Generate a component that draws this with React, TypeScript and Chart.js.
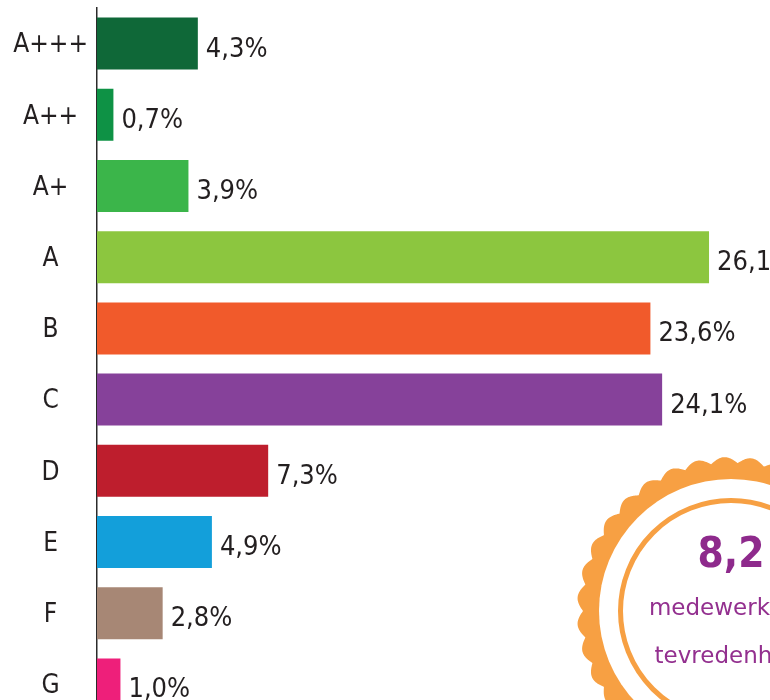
import React, { useEffect, useRef } from 'react';
import { Chart, registerables } from 'chart.js';

Chart.register(...registerables);

const categories = ['A+++', 'A++', 'A+', 'A', 'B', 'C', 'D', 'E', 'F', 'G'];
const shares = [4.3, 0.7, 3.9, 26.1, 23.6, 24.1, 7.3, 4.9, 2.8, 1.0];
const barColors = ['#0F6838', '#0E9245', '#3BB54A', '#8CC63F', '#F15A2B', '#86419A', '#BE1E2D', '#139FDA', '#A78775', '#EE1F7A'];
const badgeScore = '8,2';
const badgeLines = ['medewerkers-', 'tevredenheid'];

const FONT = '"DejaVu Sans Condensed", "DejaVu Sans", sans-serif';
const FONT_WIDE = '"DejaVu Sans", sans-serif';
const TEXT = '#231F20';
const ORANGE = '#F7A043';
const PURPLE = '#8E2A8C';

const fmt = (v: number) => v.toFixed(1).replace('.', ',') + '%';

const valueLabels = {
  id: 'valueLabels',
  afterDatasetsDraw(chart: any) {
    const ctx = chart.ctx;
    const meta = chart.getDatasetMeta(0);
    ctx.save();
    ctx.font = `27px ${FONT}`;
    ctx.fillStyle = TEXT;
    ctx.textAlign = 'left';
    ctx.textBaseline = 'alphabetic';
    meta.data.forEach((bar: any, i: number) => {
      ctx.fillText(fmt(shares[i]), bar.x + 8, bar.y + 13);
    });
    ctx.restore();
  },
};

const badge = {
  id: 'badge',
  afterDraw(chart: any) {
    const ctx = chart.ctx;
    const cx = 731;
    const cy = 611;
    const N = 35;
    const Rv = 148;
    const A = 6;
    ctx.save();
    ctx.beginPath();
    const steps = 2000;
    for (let i = 0; i <= steps; i++) {
      const t = (i / steps) * Math.PI * 2;
      const r = Rv + A * Math.abs(Math.cos((N * t) / 2));
      const x = cx + r * Math.cos(t);
      const y = cy + r * Math.sin(t);
      if (i === 0) ctx.moveTo(x, y);
      else ctx.lineTo(x, y);
    }
    ctx.closePath();
    ctx.fillStyle = ORANGE;
    ctx.fill();
    ctx.beginPath();
    ctx.arc(cx, cy, 132, 0, Math.PI * 2);
    ctx.fillStyle = '#FFFFFF';
    ctx.fill();
    ctx.beginPath();
    ctx.arc(cx, cy, 110.5, 0, Math.PI * 2);
    ctx.strokeStyle = ORANGE;
    ctx.lineWidth = 5;
    ctx.stroke();
    ctx.textAlign = 'center';
    ctx.textBaseline = 'alphabetic';
    ctx.fillStyle = PURPLE;
    ctx.font = `bold 42px ${FONT}`;
    ctx.fillText(badgeScore, cx, 567);
    ctx.font = `23px ${FONT_WIDE}`;
    ctx.fillStyle = '#93308F';
    ctx.fillText(badgeLines[0], cx, 615);
    ctx.fillText(badgeLines[1], cx, 663);
    ctx.restore();
  },
};

export default function App() {
  const ref = useRef<HTMLCanvasElement | null>(null);
  useEffect(() => {
    if (!ref.current) return;
    const chart = new Chart(ref.current, {
      type: 'bar',
      data: {
        labels: categories,
        datasets: [
          {
            data: shares,
            backgroundColor: barColors,
            borderWidth: 0,
            categoryPercentage: 1,
            barPercentage: 0.73,
          },
        ],
      },
      options: {
        indexAxis: 'y',
        responsive: false,
        animation: false,
        events: [],
        layout: { padding: { top: 8, bottom: 10, left: 0, right: 0 } },
        plugins: {
          legend: { display: false },
          tooltip: { enabled: false },
          title: { display: false },
        },
        scales: {
          x: { display: false, min: 0, max: 28.7 },
          y: {
            grid: { display: false, drawTicks: false },
            border: { display: true, color: '#2B2B2B', width: 1.5 },
            ticks: {
              padding: 9,
              crossAlign: 'center',
              labelOffset: 2,
              color: TEXT,
              font: { family: FONT, size: 26 },
            },
            afterFit: (scale: any) => {
              scale.width = 97;
              scale.paddingTop = 0;
              scale.paddingBottom = 0;
            },
          },
        },
      },
      plugins: [valueLabels, badge],
    });
    return () => chart.destroy();
  }, []);
  return (
    <div style={{ position: 'fixed', left: 0, top: 0, width: 770, height: 700, overflow: 'hidden', background: '#fff' }}>
      <canvas ref={ref} width={770} height={730} style={{ display: 'block' }} />
    </div>
  );
}
